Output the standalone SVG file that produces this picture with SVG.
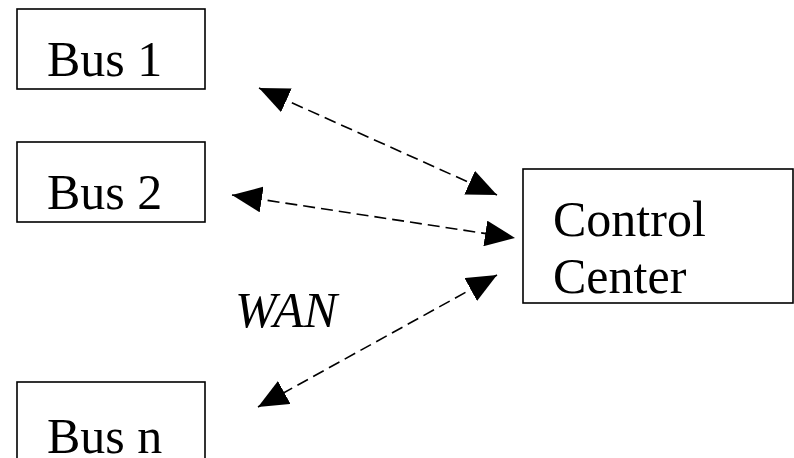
<svg xmlns="http://www.w3.org/2000/svg" width="794" height="458" viewBox="0 0 794 458">
<style>
.box{fill:#fff;stroke:#000;stroke-width:1.6}
.t{font-family:"Liberation Serif","Times New Roman",serif;font-size:50px;fill:#000}
.w{font-style:italic}
.c{fill:none;stroke:#000;stroke-width:1.6;stroke-dasharray:12 6;marker-start:url(#ah);marker-end:url(#ah)}
</style>
<defs>
<marker id="ah" markerUnits="userSpaceOnUse" viewBox="0 0 30 26" refX="30" refY="13" markerWidth="30" markerHeight="26" orient="auto-start-reverse">
<path d="M0,0 L30,13 L0,26 Z" fill="#000"/>
</marker>
</defs>
<rect width="794" height="458" fill="#fff"/>
<g id="connectors">
<line class="c" x1="259" y1="88" x2="497" y2="195"/>
<line class="c" x1="232" y1="195" x2="515" y2="238"/>
<line class="c" x1="497" y1="275" x2="258" y2="407"/>
</g>
<g id="bus1">
<rect class="box" x="17" y="9" width="188" height="80"/>
<text class="t" x="47" y="76">Bus 1</text>
</g>
<g id="bus2">
<rect class="box" x="17" y="142" width="188" height="80"/>
<text class="t" x="47" y="209">Bus 2</text>
</g>
<g id="busn">
<rect class="box" x="17" y="382" width="188" height="90"/>
<text class="t" x="47" y="453">Bus n</text>
</g>
<g id="control">
<rect class="box" x="523" y="169" width="270" height="134"/>
<text class="t" x="553" y="236">Control</text>
<text class="t" x="553" y="293">Center</text>
</g>
<g id="wan">
<text class="t w" x="235" y="327">WAN</text>
</g>
</svg>
